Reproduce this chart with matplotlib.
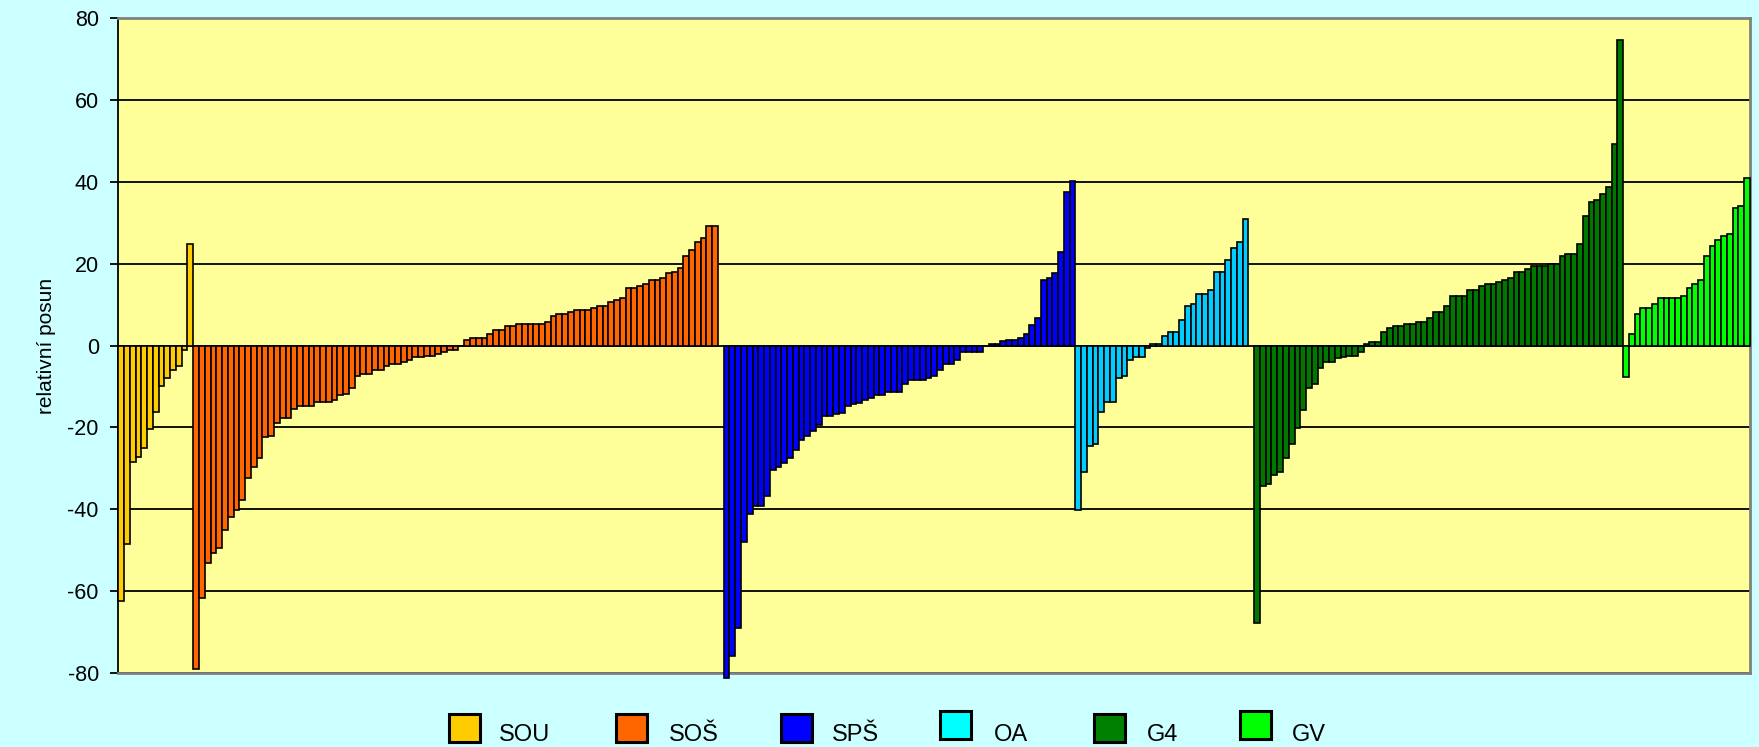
import numpy as np
import matplotlib.pyplot as plt
from matplotlib.patches import Rectangle

plt.rcParams['font.family'] = ['Liberation Sans', 'DejaVu Sans']
plt.rcParams['axes.unicode_minus'] = False

# relative shift of each school, sorted within school type
labels = ['SOU', 'SOŠ', 'SPŠ', 'OA', 'G4', 'GV']
sou = [-62.4, -48.4, -28.4, -27.3, -25.1, -20.5, -16.3, -9.8, -7.9, -6.0, -5.0, -1.0, 24.7]
sos = [-79.0, -61.6, -53.2, -50.8, -49.4, -45.0, -42.0, -40.1, -37.8, -32.3, -29.8, -27.4, -22.4,
       -22.1, -19.0, -17.7, -17.7, -15.6, -14.7, -14.7, -14.7, -13.8, -13.8, -13.8, -13.2, -12.1,
       -11.9, -10.3, -7.4, -6.9, -6.9, -5.9, -5.9, -5.0, -4.6, -4.6, -4.0, -3.5, -2.9, -2.9,
       -2.5, -2.5, -2.1, -1.6, -1.0, -1.0, 0.0, 1.3, 1.8, 1.8, 1.8, 2.9, 3.7, 3.7, 4.8, 4.8,
       5.3, 5.3, 5.3, 5.3, 5.3, 5.8, 7.3, 7.7, 7.7, 8.1, 8.7,
       8.7, 8.7, 9.2, 9.7, 9.7, 10.7, 11.2, 11.6, 14.0, 14.0, 14.5, 15.0, 16.0, 16.0, 16.5,
       17.6, 18.0, 18.9, 21.8, 23.4, 25.2, 26.3, 29.2, 29.2]
sps = [-81.2, -75.9, -69.0, -48.0, -41.2, -39.2, -39.2, -36.8, -30.5, -29.8, -28.6, -27.5,
       -25.6, -23.0, -22.1, -20.8, -19.3, -17.2, -17.2, -16.8, -16.4, -14.8, -14.4, -14.0,
       -13.4, -12.9, -12.0, -12.0, -11.3, -11.3, -11.3, -9.4, -8.4, -8.4, -8.4, -7.9, -7.4,
       -5.9, -4.4, -4.4, -3.5, -1.5, -1.5, -1.5, -1.5, 0.0, 0.4, 0.4, 1.0, 1.4, 1.4, 1.9, 2.9,
       4.9, 6.8, 16.1, 16.5, 17.6, 22.9, 37.6, 40.3]
oa = [-40.1, -31.0, -24.6, -24.0, -16.3, -13.8, -13.8, -7.9, -7.4, -3.5, -2.9, -2.9, -0.7,
      0.4, 0.4, 2.4, 3.3, 3.3, 6.2, 9.6, 10.1, 12.5, 12.5, 13.5, 17.9, 17.9, 20.8, 23.8,
      25.2, 31.0]
g4 = [-67.9, -34.2, -33.8, -31.7, -31.0, -27.4, -24.0, -20.1, -15.8, -10.3, -9.4, -5.5,
      -4.0, -4.0, -3.1, -2.9, -2.5, -2.5, -1.7, 0.4, 0.8, 0.8, 3.3, 4.2, 4.8, 4.8, 5.3, 5.3,
      5.8, 5.8, 6.8, 8.3, 8.3, 9.6, 12.1, 12.1, 12.1, 13.5, 13.5, 14.5, 15.0, 15.0, 15.4,
      16.0, 16.4, 17.9, 17.9, 18.8, 19.4, 19.4, 19.4, 19.8, 19.8, 21.8, 22.3, 22.3, 24.8,
      31.6, 35.1, 35.6, 36.9, 38.8, 49.2, 74.6]
gv = [-7.6, 2.9, 7.7, 9.2, 9.2, 10.2, 11.6, 11.6, 11.6, 11.6, 12.1, 14.1, 15.0, 16.0, 21.8,
      24.3, 25.8, 26.8, 27.3, 33.7, 34.1, 41.0]
series = [sou, sos, sps, oa, g4, gv]
empty_after = [0, 1, 0, 1, 0, 0]   # blank slots in the original chart

bar_colors = ['#FFCC00', '#FF6600', '#0000FF', '#00CCFF', '#007800', '#00FF00']
legend_colors = ['#FFCC00', '#FF6600', '#0000FF', '#00FFFF', '#008000', '#00FF00']

W, H = 1759, 747
fig = plt.figure(figsize=(W / 100, H / 100), dpi=100, facecolor='#CCFFFF')
ax = fig.add_axes([118.3 / W, 1 - 673 / H, (1750 - 118.3) / W, (673 - 18) / H])
ax.set_facecolor('#FFFF99')

start = 0
for vals, col, gap in zip(series, bar_colors, empty_after):
    x = np.arange(start, start + len(vals))
    ax.bar(x, vals, width=1.0, color=col, edgecolor='black', linewidth=1.2,
           zorder=3, clip_on=False)
    start += len(vals) + gap

ax.set_xlim(-0.5, start - 0.5)
ax.set_ylim(-80, 80)
ax.set_yticks(np.arange(-80, 81, 20))
ax.yaxis.grid(True, color='black', linewidth=1.3, zorder=0)
ax.set_axisbelow(True)
ax.set_xticks([])
ax.tick_params(axis='y', labelsize=15.5, length=6, width=1.3, direction='out', pad=8)
ax.set_ylabel('relativní posun', fontsize=15, labelpad=8)

ax.spines['left'].set_color('black')
ax.spines['left'].set_linewidth(1.3)
for s in ['top', 'right', 'bottom']:
    ax.spines[s].set_color('#808080')
    ax.spines[s].set_linewidth(2)

# legend along the bottom edge
patch_x = [449, 616, 781, 940, 1094, 1240]
text_x = [499, 669, 832, 994, 1147, 1292]
for i, (lab, col) in enumerate(zip(labels, legend_colors)):
    top = 711 if lab in ('OA', 'GV') else 714
    fig.add_artist(Rectangle((patch_x[i] / W, 1 - (top + 28) / H), 31 / W, 28 / H,
                             transform=fig.transFigure, facecolor=col,
                             edgecolor='black', linewidth=2.2))
    fig.text(text_x[i] / W, 1 - 746 / H, lab, fontsize=17, ha='left', va='bottom')

fig.savefig('out.png', dpi=100, facecolor=fig.get_facecolor())
